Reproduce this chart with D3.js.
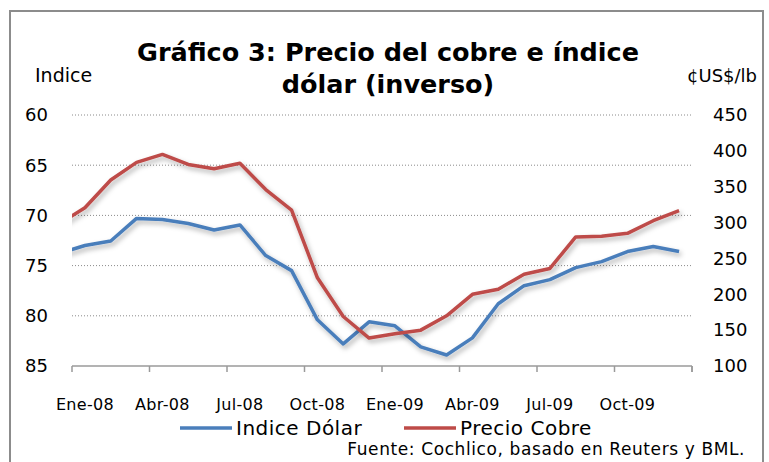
<!DOCTYPE html>
<html>
<head>
<meta charset="utf-8">
<script src="https://cdn.jsdelivr.net/npm/d3@7"></script>
<style>
  body { margin: 0; background: #fff; }
  text { font-family: 'DejaVu Sans', sans-serif; fill: #000; }
</style>
</head>
<body>
<div id="chart"></div>
<script>
'use strict';
/* data: Dic-07 .. Dic-09 (Dic-07 only enters the plot at the left edge) */
var months = ['Dic-07', 'Ene-08', 'Feb-08', 'Mar-08', 'Abr-08', 'May-08', 'Jun-08', 'Jul-08', 'Ago-08', 'Sep-08', 'Oct-08', 'Nov-08', 'Dic-08',
  'Ene-09', 'Feb-09', 'Mar-09', 'Abr-09', 'May-09', 'Jun-09', 'Jul-09', 'Ago-09', 'Sep-09', 'Oct-09', 'Nov-09', 'Dic-09'];
var indiceDolar = [73.8, 73.0, 72.55, 70.3, 70.4, 70.8, 71.45, 70.95, 74.0, 75.5, 80.4, 82.8, 80.6,
  81.0, 83.1, 83.9, 82.2, 78.8, 77.0, 76.4, 75.2, 74.6, 73.6, 73.1, 73.6];
var precioCobre = [298, 320.7, 359.4, 384, 395, 381, 375, 382.6, 346, 317.5, 223, 169, 139,
  145, 150, 170, 200, 207, 228, 236, 280, 281, 285, 302.6, 316.5];
var xLabels = ['Ene-08', 'Abr-08', 'Jul-08', 'Oct-08', 'Ene-09', 'Abr-09', 'Jul-09', 'Oct-09'];
var leftTicks = [60, 65, 70, 75, 80, 85];
var rightTicks = [100, 150, 200, 250, 300, 350, 400, 450];

var width = 769;
var height = 462;
var plotLeft = 72, plotRight = 692, plotTop = 115, plotBottom = 366;

var svg = d3.select('#chart')
  .append('svg')
  .attr('width', width)
  .attr('height', height);

var defs = svg.append('defs');
defs.append('clipPath').attr('id', 'plotClip')
  .append('rect')
  .attr('x', plotLeft).attr('y', plotTop - 10)
  .attr('width', plotRight - plotLeft).attr('height', plotBottom - plotTop + 20);
var f = defs.append('filter').attr('id', 'shadow')
  .attr('x', '-10%').attr('y', '-10%').attr('width', '120%').attr('height', '130%');
f.append('feDropShadow')
  .attr('dx', 2).attr('dy', 3).attr('stdDeviation', 2.5)
  .attr('flood-color', '#000').attr('flood-opacity', 0.3);

/* frame */
svg.append('rect')
  .attr('x', 10).attr('y', 11)
  .attr('width', 753).attr('height', 470)
  .attr('fill', 'none')
  .attr('stroke', '#8c8c8c')
  .attr('stroke-width', 2);

/* scales: index 0 = Dic-07, months centered in their slot */
var x = d3.scaleLinear().domain([0.5, 24.5]).range([plotLeft, plotRight]);
var yL = d3.scaleLinear().domain([60, 85]).range([plotTop, plotBottom]);
var yR = d3.scaleLinear().domain([100, 450]).range([plotBottom, plotTop]);

/* gridlines */
svg.append('g')
  .selectAll('line')
  .data(leftTicks.slice(0, -1))
  .enter()
  .append('line')
  .attr('x1', plotLeft).attr('x2', plotRight)
  .attr('y1', function(d) { return yL(d); })
  .attr('y2', function(d) { return yL(d); })
  .attr('stroke', '#8a8a8a')
  .attr('stroke-width', 1)
  .attr('stroke-dasharray', '1,2');

/* left axis labels */
svg.append('g')
  .selectAll('text')
  .data(leftTicks)
  .enter()
  .append('text')
  .attr('x', 48)
  .attr('y', function(d) { return yL(d); })
  .attr('dy', '0.35em')
  .attr('text-anchor', 'end')
  .style('font-size', '18px')
  .text(function(d) { return d; });

/* right axis labels */
svg.append('g')
  .selectAll('text')
  .data(rightTicks)
  .enter()
  .append('text')
  .attr('x', 713)
  .attr('y', function(d) { return yR(d); })
  .attr('dy', '0.35em')
  .attr('text-anchor', 'start')
  .style('font-size', '18px')
  .text(function(d) { return d; });

/* bottom axis */
var xAxis = svg.append('g');
xAxis.append('line')
  .attr('x1', plotLeft).attr('x2', plotRight)
  .attr('y1', plotBottom).attr('y2', plotBottom)
  .attr('stroke', '#9a9a9a').attr('stroke-width', 1.5);
var tickIdx = d3.range(0.5, 25, 3).concat([24.5]);
xAxis.selectAll('.tick')
  .data(tickIdx)
  .enter()
  .append('line')
  .attr('x1', function(d) { return x(d); })
  .attr('x2', function(d) { return x(d); })
  .attr('y1', plotBottom).attr('y2', plotBottom + 6)
  .attr('stroke', '#9a9a9a').attr('stroke-width', 1.5);
xAxis.selectAll('text')
  .data(xLabels)
  .enter()
  .append('text')
  .attr('x', function(d) { return x(months.indexOf(d)); })
  .attr('y', 410)
  .attr('text-anchor', 'middle')
  .style('font-size', '16px')
  .style('letter-spacing', '0.3px')
  .text(function(d) { return d; });

/* lines */
var plot = svg.append('g').attr('clip-path', 'url(#plotClip)');
var lineL = d3.line()
  .x(function(d, i) { return x(i); })
  .y(function(d) { return yL(d); });
var lineR = d3.line()
  .x(function(d, i) { return x(i); })
  .y(function(d) { return yR(d); });

plot.append('path')
  .datum(indiceDolar)
  .attr('d', lineL)
  .attr('fill', 'none')
  .attr('stroke', '#4a7ebb')
  .attr('stroke-width', 3.5)
  .attr('stroke-linejoin', 'round')
  .attr('filter', 'url(#shadow)');
plot.append('path')
  .datum(precioCobre)
  .attr('d', lineR)
  .attr('fill', 'none')
  .attr('stroke', '#be4b48')
  .attr('stroke-width', 3.5)
  .attr('stroke-linejoin', 'round')
  .attr('filter', 'url(#shadow)');

/* titles */
svg.append('text')
  .attr('x', 388).attr('y', 61)
  .attr('text-anchor', 'middle')
  .style('font-size', '25.5px').style('font-weight', 'bold')
  .text('Gráfico 3: Precio del cobre e índice');
svg.append('text')
  .attr('x', 388).attr('y', 93)
  .attr('text-anchor', 'middle')
  .style('font-size', '25.5px').style('font-weight', 'bold')
  .text('dólar (inverso)');
svg.append('text')
  .attr('x', 35).attr('y', 82)
  .style('font-size', '19px')
  .text('Indice');
svg.append('text')
  .attr('x', 757).attr('y', 82)
  .attr('text-anchor', 'end')
  .style('font-size', '18px')
  .text('¢US$/lb');

/* legend */
var legendItems = [
  { name: 'Indice Dólar', color: '#4a7ebb', x: 180 },
  { name: 'Precio Cobre', color: '#be4b48', x: 404 }
];
var legend = svg.selectAll('.legend')
  .data(legendItems)
  .enter()
  .append('g')
  .attr('class', 'legend')
  .attr('transform', function(d) { return 'translate(' + d.x + ',428)'; });
legend.append('line')
  .attr('x1', 0).attr('x2', 52)
  .attr('stroke', function(d) { return d.color; })
  .attr('stroke-width', 3.5);
legend.append('text')
  .attr('x', 56)
  .attr('dy', '0.35em')
  .style('font-size', '20px')
  .style('letter-spacing', '0.5px')
  .text(function(d) { return d.name; });

/* source */
svg.append('text')
  .attr('x', 745).attr('y', 455)
  .attr('text-anchor', 'end')
  .style('font-size', '17px')
  .style('letter-spacing', '0.6px')
  .text('Fuente: Cochlico, basado en Reuters y BML.');
</script>
</body>
</html>
